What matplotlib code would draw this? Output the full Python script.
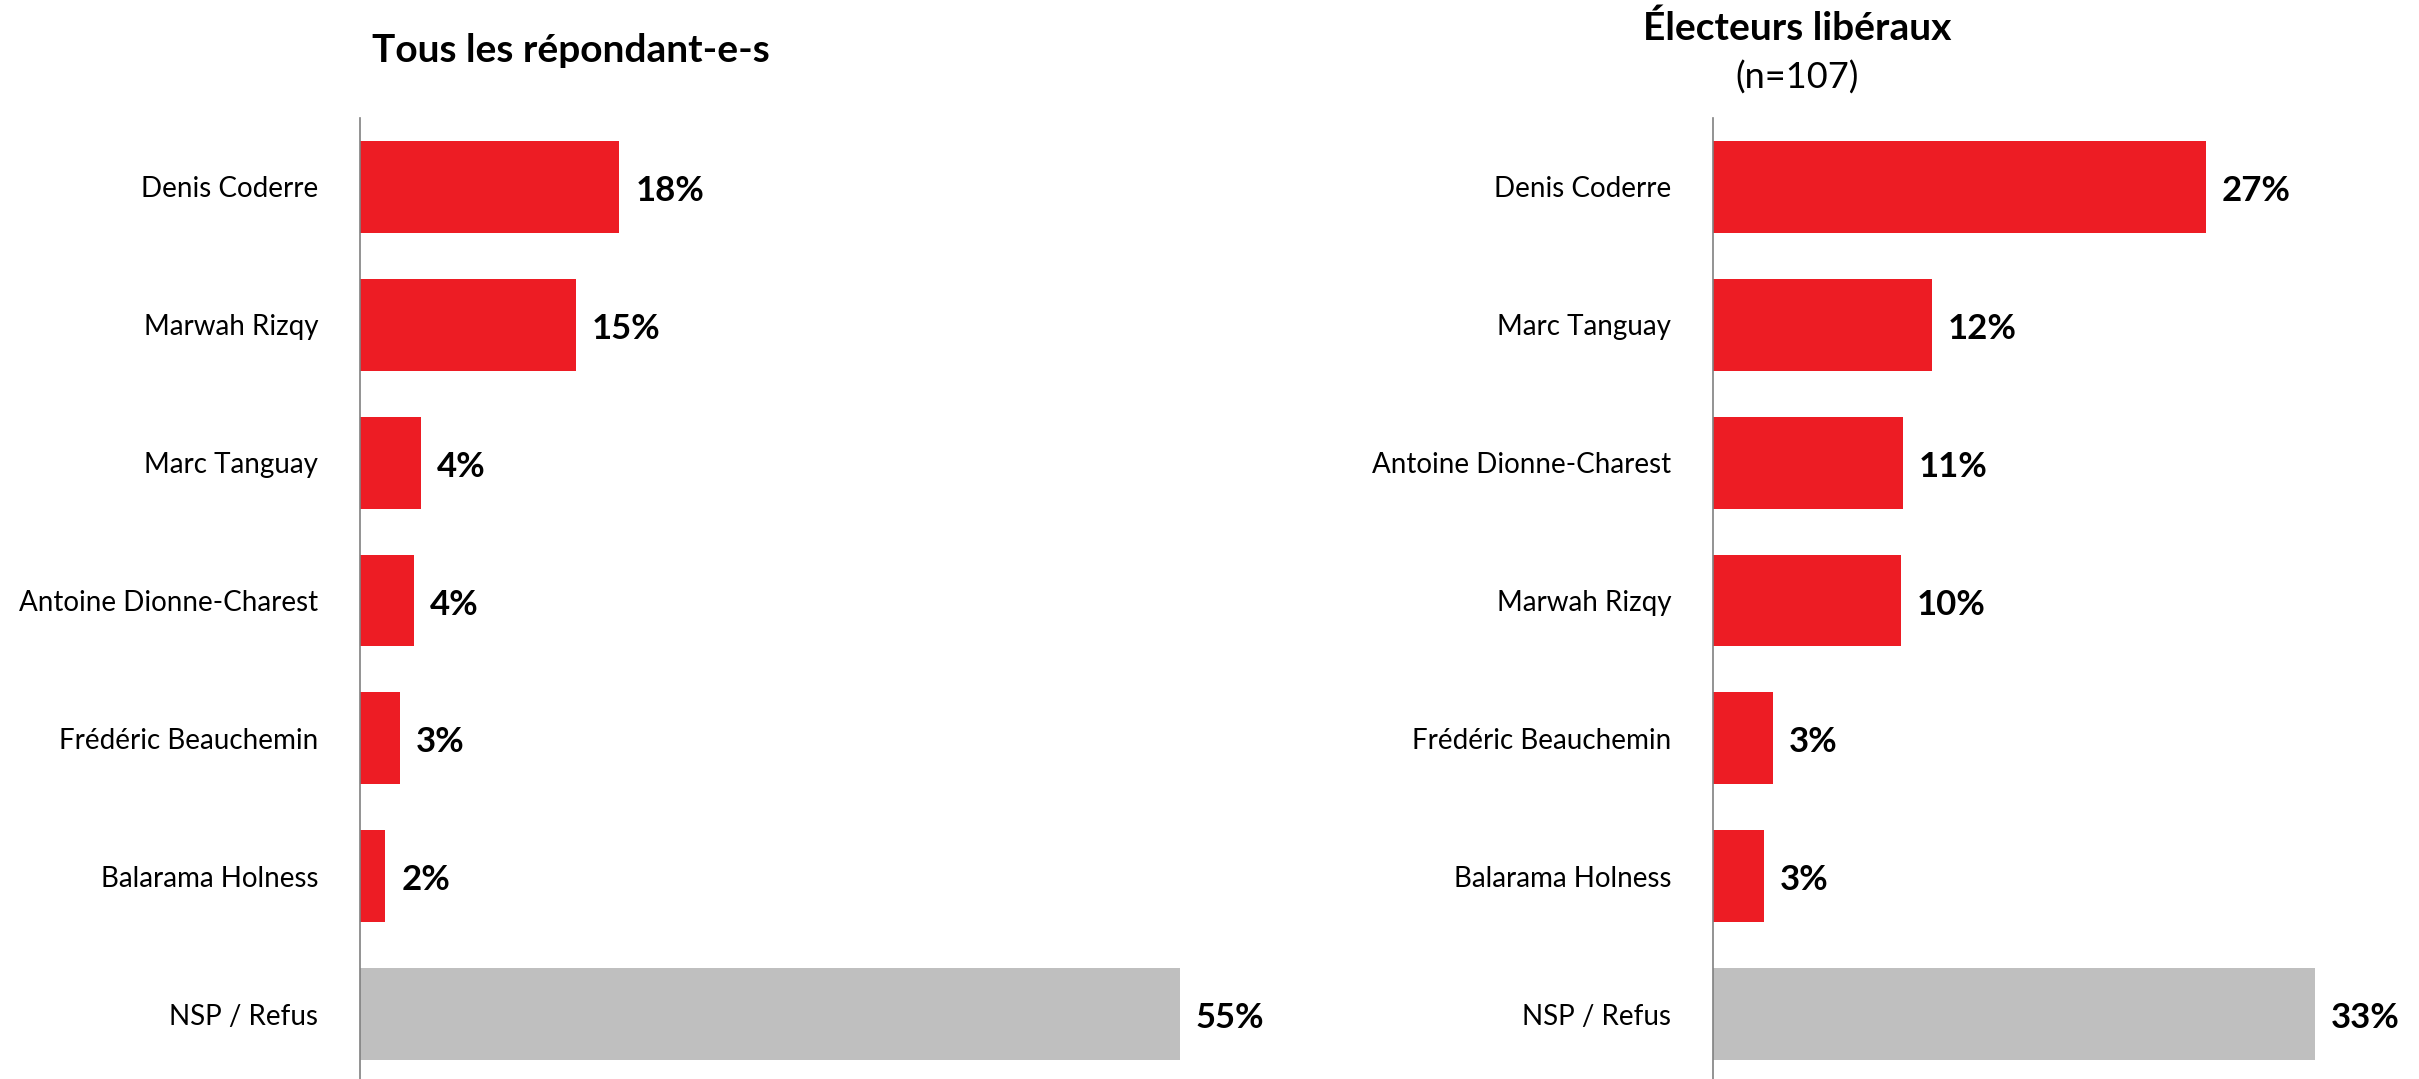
import matplotlib
matplotlib.use("Agg")
import matplotlib.pyplot as plt

# ---- data ----
left_title = "Tous les répondant-e-s"
left_categories = ["Denis Coderre", "Marwah Rizqy", "Marc Tanguay", "Antoine Dionne-Charest",
                   "Frédéric Beauchemin", "Balarama Holness", "NSP / Refus"]
left_values = [17.4, 14.5, 4.1, 3.6, 2.7, 1.7, 55.0]
left_labels = ["18%", "15%", "4%", "4%", "3%", "2%", "55%"]

right_title = "Électeurs libéraux"
right_subtitle = "(n=107)"
right_categories = ["Denis Coderre", "Marc Tanguay", "Antoine Dionne-Charest", "Marwah Rizqy",
                    "Frédéric Beauchemin", "Balarama Holness", "NSP / Refus"]
right_values = [27.0, 12.0, 10.4, 10.3, 3.3, 2.8, 33.0]
right_labels = ["27%", "12%", "11%", "10%", "3%", "3%", "33%"]

RED = "#ED1C24"
GREY = "#BFBFBF"
FONT = ["Lato", "DejaVu Sans"]
plt.rcParams["font.family"] = FONT

W, H = 2419, 1079
fig = plt.figure(figsize=(W / 100, H / 100), dpi=100)


def panel(x0_px, px_per_unit, xmax, cats, vals, labels):
    width_px = px_per_unit * xmax
    ax = fig.add_axes([x0_px / W, -4 / H, width_px / W, (1083 - 118) / H])
    n = len(cats)
    ys = list(range(n))
    colors = [RED] * (n - 1) + [GREY]
    ax.barh(ys, vals, height=0.667, color=colors)
    ax.set_xlim(0, xmax)
    ax.set_ylim(n - 0.5, -0.5)
    for s in ["top", "right", "bottom"]:
        ax.spines[s].set_visible(False)
    ax.spines["left"].set_color("#808080")
    ax.spines["left"].set_linewidth(1.2)
    ax.set_xticks([])
    ax.set_yticks(ys)
    ax.set_yticklabels(cats, fontsize=20)
    ax.tick_params(axis="y", length=0, pad=30)
    off = 16 / px_per_unit
    for y, v, lab in zip(ys, vals, labels):
        ax.text(v + off, y + 0.03, lab, va="center", ha="left", fontsize=25, fontweight="bold")
    return ax


panel(360, 14.9, 60, left_categories, left_values, left_labels)
panel(1713, 18.25, 36, right_categories, right_values, right_labels)

fig.text(571 / W, 1 - 50 / H, left_title, ha="center", va="center", fontsize=28, fontweight="bold")
fig.text(1797 / W, 1 - 28 / H, right_title, ha="center", va="center", fontsize=28, fontweight="bold")
fig.text(1797 / W, 1 - 78 / H, right_subtitle, ha="center", va="center", fontsize=26)

fig.savefig("out.png", dpi=100)
